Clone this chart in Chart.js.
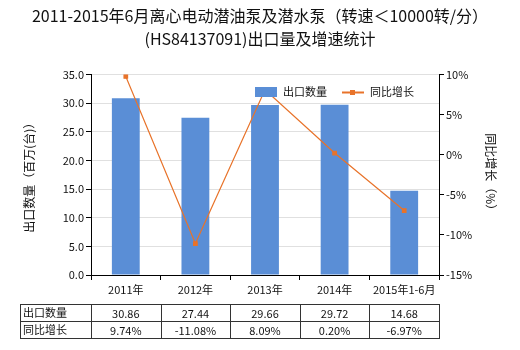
<!DOCTYPE html>
<html>
<head>
<meta charset="utf-8">
<script src="https://cdn.jsdelivr.net/npm/chart.js@4/dist/chart.umd.min.js"></script>
<style>
  body { margin: 0; background: #fff; }
  #wrap { width: 520px; height: 350px; }
</style>
</head>
<body>
<div id="wrap"><canvas id="chart"></canvas></div>
<script>
const years = ["2011年", "2012年", "2013年", "2014年", "2015年1-6月"];
const exportQty = [30.86, 27.44, 29.66, 29.72, 14.68];
const growth = [9.74, -11.08, 8.09, 0.20, -6.97];

const FONT = "'Noto Sans CJK SC', 'DejaVu Sans', sans-serif";
const BAR_COLOR = "#5A8ED6";
const LINE_COLOR = "#E8732A";

// data table under the x axis + legend inside the plot
const extrasPlugin = {
  id: "extras",
  afterDraw(chart) {
    const ctx = chart.ctx;
    const x = chart.scales.x;
    const left = 20, top = 304, rowH = 17;
    const right = chart.chartArea.right;
    const colW = (right - chart.chartArea.left) / years.length;
    ctx.save();
    ctx.strokeStyle = "#333";
    ctx.lineWidth = 1;
    ctx.strokeRect(left + 0.5, top + 0.5, right - left, rowH * 2);
    ctx.beginPath();
    ctx.moveTo(left, top + rowH + 0.5);
    ctx.lineTo(right, top + rowH + 0.5);
    for (let i = 0; i < years.length; i++) {
      const bx = Math.round(chart.chartArea.left + colW * i) + 0.5;
      ctx.moveTo(bx, top);
      ctx.lineTo(bx, top + rowH * 2);
    }
    ctx.stroke();
    ctx.fillStyle = "#111";
    ctx.font = "11px " + FONT;
    ctx.textBaseline = "middle";
    ctx.textAlign = "left";
    ctx.fillText("出口数量", left + 3, top + rowH / 2);
    ctx.fillText("同比增长", left + 3, top + rowH * 1.5);
    ctx.textAlign = "center";
    for (let i = 0; i < years.length; i++) {
      const cx = x.getPixelForValue(i);
      ctx.fillText(exportQty[i].toFixed(2), cx, top + rowH / 2 + 1);
      ctx.fillText(growth[i].toFixed(2) + "%", cx, top + rowH * 1.5 + 1);
    }

    // legend
    const ly = 92;
    ctx.fillStyle = BAR_COLOR;
    ctx.fillRect(255, ly - 5, 22, 10);
    ctx.fillStyle = "#111";
    ctx.textAlign = "left";
    ctx.fillText("出口数量", 283, ly);
    ctx.strokeStyle = LINE_COLOR;
    ctx.lineWidth = 2;
    ctx.beginPath();
    ctx.moveTo(342, ly + 0.5);
    ctx.lineTo(364, ly + 0.5);
    ctx.stroke();
    ctx.fillStyle = LINE_COLOR;
    ctx.fillRect(350, ly - 2, 5, 5);
    ctx.fillStyle = "#111";
    ctx.fillText("同比增长", 370, ly);
    ctx.restore();
  }
};

new Chart("chart", {
  data: {
    labels: years,
    datasets: [{
      type: "line",
      label: "同比增长",
      data: growth,
      yAxisID: "y1",
      borderColor: LINE_COLOR,
      backgroundColor: LINE_COLOR,
      borderWidth: 1.2,
      pointStyle: "rect",
      pointRadius: 2.5,
      tension: 0,
      order: 0
    }, {
      type: "bar",
      label: "出口数量",
      data: exportQty,
      yAxisID: "y",
      backgroundColor: BAR_COLOR,
      categoryPercentage: 0.8,
      barPercentage: 0.5,
      order: 1
    }]
  },
  plugins: [extrasPlugin],
  options: {
    responsive: true,
    maintainAspectRatio: false,
    animation: false,
    layout: { padding: { top: 0, bottom: 50, left: 18, right: 18 } },
    plugins: {
      title: {
        display: true,
        text: ["2011-2015年6月离心电动潜油泵及潜水泵（转速＜10000转/分）", "(HS84137091)出口量及增速统计"],
        color: "#111",
        font: { family: FONT, size: 16, weight: "normal", lineHeight: 1.45 },
        padding: { top: 4, bottom: 24 }
      },
      legend: { display: false },
      tooltip: { enabled: false }
    },
    scales: {
      x: {
        grid: { display: true, drawOnChartArea: false, color: "#000", tickLength: 5 },
        border: { color: "#000" },
        ticks: { color: "#111", font: { family: FONT, size: 11 }, maxRotation: 0 },
        afterFit(s) { s.height = 25; }
      },
      y: {
        position: "left",
        min: 0, max: 35,
        ticks: { stepSize: 5, color: "#111", font: { family: FONT, size: 11 }, callback: v => v.toFixed(1), padding: 2 },
        grid: { color: "#e0e0e0", tickColor: "#000", tickLength: 5 },
        border: { color: "#000" },
        title: { display: true, text: "出口数量（百万(台)）", color: "#111", font: { family: FONT, size: 12 } },
        afterFit(s) { s.width = 73; }
      },
      y1: {
        position: "right",
        min: -15, max: 10,
        ticks: { stepSize: 5, color: "#111", font: { family: FONT, size: 11 }, callback: v => v + "%", padding: 2 },
        grid: { drawOnChartArea: false, color: "#000", tickLength: 5 },
        border: { color: "#000" },
        title: { display: true, text: "同比增长（%）", color: "#111", font: { family: FONT, size: 12 } },
        afterFit(s) { s.width = 63; }
      }
    }
  }
});
</script>
</body>
</html>
